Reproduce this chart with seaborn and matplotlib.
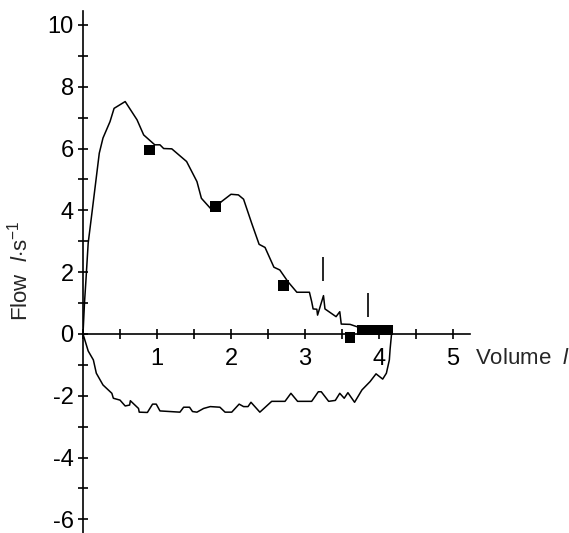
import pandas as pd
import seaborn as sns
import matplotlib.pyplot as plt
from matplotlib.ticker import MultipleLocator, FuncFormatter

# expiratory limb (volume l, flow l/s)
exp_vol = [0.0, 0.01, 0.02, 0.04, 0.07, 0.12, 0.22, 0.27, 0.365, 0.42, 0.57, 0.73, 0.82, 0.97,
           1.04, 1.09, 1.2, 1.4, 1.54, 1.6, 1.72, 1.8, 1.87, 2.0, 2.1, 2.17, 2.28, 2.38, 2.46,
           2.58, 2.66, 2.77, 2.89, 3.06, 3.09, 3.11, 3.16, 3.17, 3.25, 3.27, 3.42, 3.47, 3.49,
           3.61, 3.72, 3.9, 4.18]
exp_flow = [0.0, 0.5, 1.0, 1.75, 2.94, 3.9, 5.85, 6.34, 6.87, 7.3, 7.52, 6.93, 6.44, 6.12,
            6.12, 6.0, 5.99, 5.58, 4.93, 4.39, 4.07, 4.12, 4.28, 4.52, 4.5, 4.36, 3.58, 2.9, 2.8,
            2.16, 2.07, 1.69, 1.35, 1.35, 1.05, 0.81, 0.8, 0.61, 1.24, 0.81, 0.56, 0.72, 0.32,
            0.31, 0.22, 0.24, 0.26]

# inspiratory limb
insp_vol = [4.18, 4.15, 4.14, 4.1, 4.05, 3.96, 3.88, 3.77, 3.67, 3.58, 3.53, 3.47, 3.41, 3.32,
            3.22, 3.18, 3.09, 2.9, 2.81, 2.73, 2.55, 2.39, 2.27, 2.23, 2.17, 2.11, 2.01, 1.92,
            1.85, 1.72, 1.63, 1.54, 1.48, 1.44, 1.36, 1.31, 1.04, 0.99, 0.94, 0.87, 0.76, 0.75,
            0.64, 0.63, 0.57, 0.5, 0.41, 0.39, 0.27, 0.18, 0.14, 0.07, 0.0]
insp_flow = [0.26, -0.5, -0.84, -1.27, -1.46, -1.29, -1.54, -1.81, -2.21, -1.9, -2.08, -1.92,
             -2.15, -2.18, -1.87, -1.87, -2.18, -2.18, -1.92, -2.18, -2.18, -2.53, -2.21, -2.35,
             -2.35, -2.27, -2.53, -2.53, -2.37, -2.35, -2.41, -2.53, -2.51, -2.37, -2.37, -2.53,
             -2.49, -2.27, -2.27, -2.54, -2.53, -2.41, -2.16, -2.3, -2.33, -2.14, -2.08, -1.92,
             -1.65, -1.27, -0.84, -0.55, 0.0]

# square markers
sq_vol = [0.9, 1.79, 2.71, 3.61, 3.78, 3.85, 3.92, 3.99, 4.06, 4.12]
sq_flow = [5.95, 4.12, 1.56, -0.11, 0.13, 0.13, 0.13, 0.13, 0.13, 0.13]

# short vertical bars
bar_vol = [3.24, 3.85]
bar_flow = [2.11, 0.94]

sns.set_style("white")
plt.rcParams['font.family'] = ['Liberation Sans', 'DejaVu Sans']
plt.rcParams['mathtext.fontset'] = 'custom'
plt.rcParams['mathtext.rm'] = 'Liberation Sans'
plt.rcParams['mathtext.it'] = 'Liberation Sans:italic'

fig = plt.figure(figsize=(5.69, 5.33), dpi=100)
ax = fig.add_axes([83 / 569, 0.0, (470 - 83) / 569, 1 - 11 / 533])

exp_df = pd.DataFrame({"vol": exp_vol, "flow": exp_flow})
insp_df = pd.DataFrame({"vol": insp_vol, "flow": insp_flow})
sns.lineplot(data=exp_df, x="vol", y="flow", sort=False, color="black", lw=1.1, ax=ax)
sns.lineplot(data=insp_df, x="vol", y="flow", sort=False, color="black", lw=1.1, ax=ax)
sns.scatterplot(x=sq_vol, y=sq_flow, marker="s", s=58, color="black", edgecolor="none", ax=ax, zorder=3)
sns.scatterplot(x=bar_vol, y=bar_flow, marker="|", s=300, color="black", linewidth=1.2, ax=ax)

ax.set_xlim(0, 5.23)
ax.set_ylim(-6.44, 10.45)
for side in ["top", "right"]:
    ax.spines[side].set_visible(False)
for side in ["left", "bottom"]:
    ax.spines[side].set_position(("data", 0))
    ax.spines[side].set_linewidth(1.2)
    ax.spines[side].set_color("black")

ax.xaxis.set_major_locator(MultipleLocator(0.5))
ax.yaxis.set_major_locator(MultipleLocator(1))
ax.xaxis.set_major_formatter(FuncFormatter(lambda v, p: f"{v:.0f}" if v > 0 and abs(v - round(v)) < 1e-6 else ""))
ax.yaxis.set_major_formatter(FuncFormatter(lambda v, p: f"{v:.0f}" if round(v) % 2 == 0 else ""))
ax.tick_params(axis="both", direction="inout", length=7.5, width=1.2, color="black",
               labelsize=17, labelcolor="black", bottom=True, left=True)
ax.tick_params(axis="x", pad=6)
ax.tick_params(axis="y", pad=3)
ax.set_xlabel("")
ax.set_ylabel("")

fig.text(475 / 569, 1 - 359 / 533, r"Volume  $\mathit{l}$", fontsize=16, va="center", ha="left")
fig.text(20 / 569, 1 - 271 / 533, r"Flow  $\mathit{l}$$\cdot$s$^{-1}$", fontsize=16,
         rotation=90, va="center", ha="center")

fig.savefig("out.png", dpi=100)
